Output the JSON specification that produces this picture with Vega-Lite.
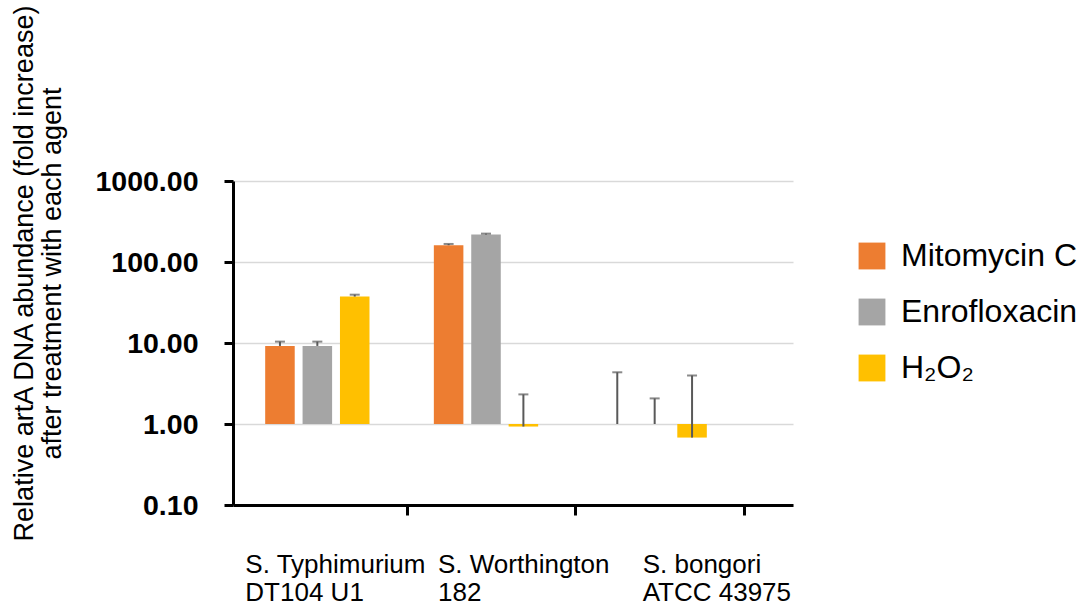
{
  "$schema": "https://vega.github.io/schema/vega-lite/v6.json",
  "width": 560,
  "height": 324,
  "autosize": {"type": "none"},
  "padding": {"left": 233, "top": 181, "right": 288, "bottom": 109},
  "background": "white",
  "config": {"view": {"stroke": null}, "font": "Liberation Sans"},
  "data": {
    "values": [
      {"strain": "S. Typhimurium|DT104 U1", "agent": "Mitomycin C", "value": 9.2, "upper": 10.4},
      {"strain": "S. Typhimurium|DT104 U1", "agent": "Enrofloxacin", "value": 9.2, "upper": 10.4},
      {"strain": "S. Typhimurium|DT104 U1", "agent": "H₂O₂", "value": 37.4, "upper": 39.5},
      {"strain": "S. Worthington|182", "agent": "Mitomycin C", "value": 161, "upper": 167},
      {"strain": "S. Worthington|182", "agent": "Enrofloxacin", "value": 218, "upper": 224},
      {"strain": "S. Worthington|182", "agent": "H₂O₂", "value": 0.93, "upper": 2.32},
      {"strain": "S. bongori|ATCC 43975", "agent": "Mitomycin C", "value": 1.0, "upper": 4.35},
      {"strain": "S. bongori|ATCC 43975", "agent": "Enrofloxacin", "value": 1.0, "upper": 2.07},
      {"strain": "S. bongori|ATCC 43975", "agent": "H₂O₂", "value": 0.68, "upper": 3.97}
    ]
  },
  "encoding": {
    "x": {
      "field": "strain",
      "type": "nominal",
      "sort": null,
      "scale": {"paddingInner": 0.335, "paddingOuter": 0.3276, "align": 0.2557},
      "axis": {
        "title": null,
        "domain": true,
        "domainColor": "black",
        "domainWidth": 3,
        "bandPosition": 1.3,
        "ticks": true,
        "tickColor": "black",
        "tickWidth": 3,
        "tickSize": 10,
        "labelAngle": 0,
        "labelAlign": "left",
        "labelBaseline": "top",
        "labelExpr": "split(datum.label, '|')",
        "labelFontSize": 26,
        "labelLineHeight": 28,
        "labelColor": "black",
        "labelPadding": 36,
        "labelLimit": 0,
        "labelOverlap": false,
        "labelOffset": {
          "condition": [
            {"test": "indexof(datum.value, 'Typhimurium') >= 0", "value": -72},
            {"test": "indexof(datum.value, 'Worthington') >= 0", "value": -48}
          ],
          "value": -12
        }
      }
    },
    "xOffset": {
      "field": "agent",
      "type": "nominal",
      "sort": ["Mitomycin C", "Enrofloxacin", "H₂O₂"],
      "scale": {"paddingInner": 0.21, "paddingOuter": 0.105}
    }
  },
  "layer": [
    {
      "mark": {"type": "bar"},
      "encoding": {
        "y": {
          "field": "value",
          "type": "quantitative",
          "scale": {"type": "log", "domain": [0.1, 1000], "nice": false},
          "axis": {
            "values": [0.1, 1, 10, 100, 1000],
            "format": ".2f",
            "labelFontSize": 28.5,
            "labelFontWeight": "bold",
            "labelColor": "black",
            "labelPadding": 26,
            "tickSize": 9,
            "tickWidth": 3,
            "tickColor": "black",
            "domainColor": "black",
            "domainWidth": 3,
            "grid": true,
            "gridColor": "#d9d9d9",
            "gridWidth": 1.5,
            "title": ["Relative artA DNA abundance (fold increase)", "after treatment with each agent"],
            "titleFontSize": 27,
            "titleFontWeight": "normal",
            "titleColor": "black",
            "titleLineHeight": 28,
            "titleAngle": -90,
            "titleAlign": "center",
            "titleBaseline": "middle",
            "titleX": -209,
            "titleY": 92
          }
        },
        "y2": {"datum": 1},
        "color": {
          "field": "agent",
          "type": "nominal",
          "sort": ["Mitomycin C", "Enrofloxacin", "H₂O₂"],
          "scale": {"domain": ["Mitomycin C", "Enrofloxacin", "H₂O₂"], "range": ["#ED7D31", "#A5A5A5", "#FFC000"]},
          "legend": {
            "title": null,
            "orient": "none",
            "legendX": 623,
            "legendY": 59,
            "symbolType": "square",
            "symbolSize": 720,
            "symbolStrokeWidth": 0,
            "labelFontSize": 32,
            "labelColor": "black",
            "labelOffset": 13,
            "rowPadding": 24,
            "labelLimit": 0
          }
        }
      }
    },
    {
      "mark": {"type": "rule", "color": "#595959", "strokeWidth": 2},
      "encoding": {
        "y": {"field": "value", "type": "quantitative"},
        "y2": {"field": "upper"}
      }
    },
    {
      "mark": {"type": "tick", "color": "#595959", "thickness": 2, "size": 10},
      "encoding": {
        "y": {"field": "upper", "type": "quantitative"}
      }
    }
  ]
}
